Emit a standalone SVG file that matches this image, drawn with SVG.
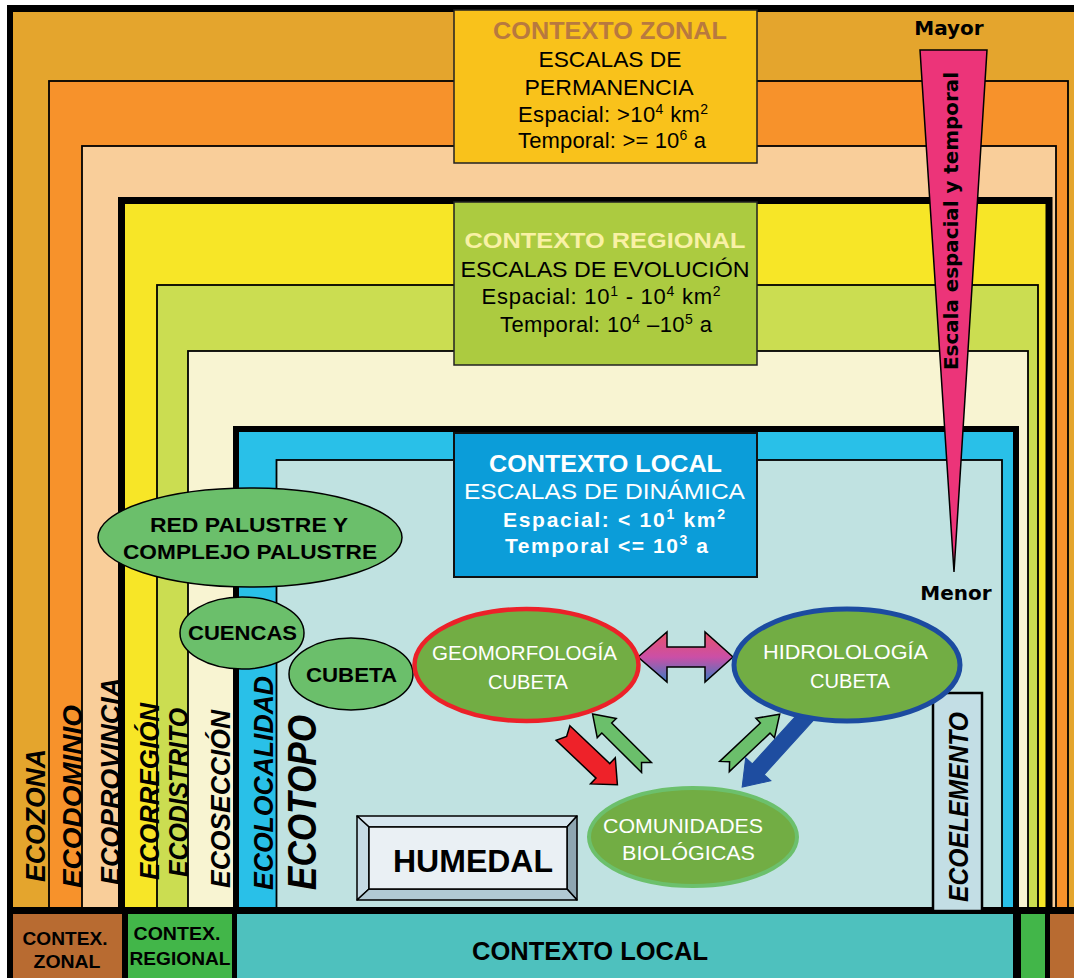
<svg xmlns="http://www.w3.org/2000/svg" width="1074" height="978" viewBox="0 0 1074 978">
  <style>
    .band { stroke: #000; stroke-width: 1.8; }
    .vlab { font-family: "Liberation Sans", Arial, sans-serif; font-weight: bold; font-style: italic; font-size: 28px; fill: #000; }
    .hand { font-family: "Liberation Sans", Arial, sans-serif; font-size: 22px; text-anchor: middle; }
    .title { font-family: "Liberation Sans", Arial, sans-serif; font-weight: bold; font-size: 23px; text-anchor: middle; }
    .olab { font-family: "Liberation Sans", Arial, sans-serif; font-weight: bold; font-size: 21px; text-anchor: middle; fill: #000; }
    .wlab { font-family: "Liberation Sans", Arial, sans-serif; font-size: 20px; text-anchor: middle; fill: #fff; }
    .foot { font-family: "Liberation Sans", Arial, sans-serif; font-weight: bold; font-size: 18px; text-anchor: middle; fill: #000; }
    .scale { font-family: "DejaVu Sans", Verdana, sans-serif; font-weight: bold; font-size: 20px; fill: #000; }
    .green-node { fill: #6BBF6B; stroke: #000; stroke-width: 1.5; }
    .arrow-green { fill: #6BBF6B; stroke: #000; stroke-width: 1.5; stroke-linejoin: miter; }
  </style>
  <defs>
    <linearGradient id="twoWay" x1="0" y1="0" x2="0" y2="1">
      <stop offset="0" stop-color="#E8526A"/>
      <stop offset="0.5" stop-color="#CB4FA6"/>
      <stop offset="1" stop-color="#3A7DC3"/>
    </linearGradient>
  </defs>

  <rect x="0" y="0" width="1074" height="978" fill="#fff"/>
  <!-- outer frame -->
  <rect x="7" y="5" width="1080" height="980" fill="#000"/>

  <!-- nested scale bands -->
  <g id="bands">
    <rect id="ecozona" x="13" y="12" width="1080" height="900" fill="#E4A52D"/>
    <rect id="ecodominio" class="band" x="49" y="81" width="1019" height="831" fill="#F7922B"/>
    <rect id="ecoprovincia" class="band" x="82" y="146" width="974" height="766" fill="#F9CE9A"/>
    <rect id="ecorregion" x="121.5" y="200.5" width="927.5" height="711.5" fill="#F7E627" stroke="#000" stroke-width="7"/>
    <rect id="ecodistrito" class="band" x="157" y="285" width="881" height="627" fill="#CBDD51"/>
    <rect id="ecoseccion" class="band" x="188" y="351" width="840" height="561" fill="#F8F4D2"/>
    <rect id="ecolocalidad" x="236" y="429" width="780" height="483" fill="#29C0E8" stroke="#000" stroke-width="6"/>
    <rect id="ecotopo" class="band" x="276.5" y="460" width="725.5" height="452" fill="#C0E2E1"/>
  </g>

  <!-- bottom context bar -->
  <g id="context-bar">
    <rect x="7" y="907" width="1067" height="71" fill="#000"/>
    <rect x="13" y="914" width="109" height="64" fill="#B86B31"/>
    <rect x="128" y="914" width="104" height="64" fill="#42B649"/>
    <rect x="237" y="914" width="776" height="64" fill="#4EC1BE"/>
    <rect x="1021" y="914" width="24" height="64" fill="#42B649"/>
    <rect x="1050" y="914" width="24" height="64" fill="#B86B31"/>
    <text class="foot" x="65" y="945" textLength="85" lengthAdjust="spacingAndGlyphs">CONTEX.</text>
    <text class="foot" x="67" y="968" textLength="67" lengthAdjust="spacingAndGlyphs">ZONAL</text>
    <text class="foot" x="177" y="940" textLength="87" lengthAdjust="spacingAndGlyphs">CONTEX.</text>
    <text class="foot" x="180" y="965" textLength="101" lengthAdjust="spacingAndGlyphs">REGIONAL</text>
    <text class="foot" x="590" y="960" style="font-size:25px" textLength="236" lengthAdjust="spacingAndGlyphs">CONTEXTO LOCAL</text>
  </g>

  <!-- vertical band names -->
  <g id="band-labels">
    <text class="vlab" transform="translate(45,882) rotate(-90)" textLength="133" lengthAdjust="spacingAndGlyphs">ECOZONA</text>
    <text class="vlab" transform="translate(82,888) rotate(-90)" textLength="183" lengthAdjust="spacingAndGlyphs">ECODOMINIO</text>
    <text class="vlab" transform="translate(120,885) rotate(-90)" textLength="207" lengthAdjust="spacingAndGlyphs">ECOPROVINCIA</text>
    <text class="vlab" transform="translate(159,880) rotate(-90)" textLength="177" lengthAdjust="spacingAndGlyphs">ECORREGIÓN</text>
    <text class="vlab" transform="translate(188,877) rotate(-90)" textLength="169" lengthAdjust="spacingAndGlyphs">ECODISTRITO</text>
    <text class="vlab" transform="translate(230,888) rotate(-90)" textLength="178" lengthAdjust="spacingAndGlyphs">ECOSECCIÓN</text>
    <text class="vlab" transform="translate(273,890) rotate(-90)" textLength="214" lengthAdjust="spacingAndGlyphs">ECOLOCALIDAD</text>
    <text class="vlab" transform="translate(316,890) rotate(-90)" style="font-size:40px" textLength="175" lengthAdjust="spacingAndGlyphs">ECOTOPO</text>
  </g>

  <!-- context boxes -->
  <g id="contexto-zonal">
    <rect x="454" y="10" width="303" height="153" fill="#F9C21B" stroke="#222" stroke-width="1.5"/>
    <text class="title" x="610" y="39" fill="#B8793F" textLength="234" lengthAdjust="spacingAndGlyphs">CONTEXTO ZONAL</text>
    <text class="hand" x="610" y="67" textLength="143" lengthAdjust="spacingAndGlyphs">ESCALAS DE</text>
    <text class="hand" x="609" y="95" textLength="169" lengthAdjust="spacingAndGlyphs">PERMANENCIA</text>
    <text class="hand" x="613" y="122" textLength="190" lengthAdjust="spacing">Espacial: &gt;10<tspan font-size="14" dy="-8">4</tspan><tspan dy="8"> km</tspan><tspan font-size="14" dy="-8">2</tspan></text>
    <text class="hand" x="612" y="148" textLength="188" lengthAdjust="spacing">Temporal: &gt;= 10<tspan font-size="14" dy="-8">6</tspan><tspan dy="8"> a</tspan></text>
  </g>

  <g id="contexto-regional">
    <rect x="454" y="202" width="303" height="163" fill="#ACCB40" stroke="#222" stroke-width="1.5"/>
    <text class="title" x="605" y="248" style="font-size:22px" fill="#F9F1A5" textLength="281" lengthAdjust="spacingAndGlyphs">CONTEXTO REGIONAL</text>
    <text class="hand" x="605" y="277" textLength="289" lengthAdjust="spacingAndGlyphs">ESCALAS DE EVOLUCIÓN</text>
    <text class="hand" x="601" y="304" textLength="239" lengthAdjust="spacing">Espacial: 10<tspan font-size="14" dy="-8">1</tspan><tspan dy="8"> - 10</tspan><tspan font-size="14" dy="-8">4</tspan><tspan dy="8">  km</tspan><tspan font-size="14" dy="-8">2</tspan></text>
    <text class="hand" x="606" y="332" textLength="212" lengthAdjust="spacing">Temporal: 10<tspan font-size="14" dy="-8">4</tspan><tspan dy="8"> –10</tspan><tspan font-size="14" dy="-8">5</tspan><tspan dy="8"> a</tspan></text>
  </g>

  <g id="contexto-local">
    <rect x="454" y="433" width="303" height="144" fill="#0B9DD9" stroke="#111" stroke-width="2"/>
    <text class="title" x="605.5" y="472" fill="#fff" textLength="233" lengthAdjust="spacingAndGlyphs">CONTEXTO LOCAL</text>
    <text class="hand" x="604.5" y="499" fill="#fff" textLength="281" lengthAdjust="spacingAndGlyphs">ESCALAS DE DINÁMICA</text>
    <text class="hand" x="614" y="527" fill="#fff" style="font-size:21px;font-weight:bold" textLength="222" lengthAdjust="spacing">Espacial: &lt; 10<tspan font-size="14" dy="-8">1</tspan><tspan dy="8">  km</tspan><tspan font-size="14" dy="-8">2</tspan></text>
    <text class="hand" x="606.5" y="553" fill="#fff" style="font-size:21px;font-weight:bold" textLength="203" lengthAdjust="spacing">Temporal &lt;= 10<tspan font-size="14" dy="-8">3</tspan><tspan dy="8"> a</tspan></text>
  </g>

  <!-- spatial / temporal scale wedge -->
  <g id="escala">
    <text class="scale" x="949" y="35" text-anchor="middle">Mayor</text>
    <polygon points="920,50 987,50 954,572" fill="#EC3479" stroke="#000" stroke-width="1.5"/>
    <text class="scale" transform="translate(958,370) rotate(-90)" textLength="298" lengthAdjust="spacingAndGlyphs">Escala espacial y temporal</text>
    <text class="scale" x="956" y="600" text-anchor="middle">Menor</text>
  </g>

  <g id="ecoelemento">
    <rect x="933" y="693" width="49" height="218" fill="#C3DEE5" stroke="#000" stroke-width="2.5"/>
    <text class="vlab" transform="translate(968,902) rotate(-90)" textLength="190" lengthAdjust="spacingAndGlyphs">ECOELEMENTO</text>
  </g>

  <!-- hierarchy ovals -->
  <g id="red-palustre">
    <ellipse class="green-node" cx="250" cy="537.5" rx="152" ry="49.5"/>
    <text class="olab" x="249" y="532" textLength="198" lengthAdjust="spacingAndGlyphs">RED PALUSTRE Y</text>
    <text class="olab" x="250" y="559" textLength="254" lengthAdjust="spacingAndGlyphs">COMPLEJO PALUSTRE</text>
  </g>
  <g id="cuencas">
    <ellipse class="green-node" cx="242" cy="633" rx="62" ry="36"/>
    <text class="olab" x="242.5" y="640" textLength="109" lengthAdjust="spacingAndGlyphs">CUENCAS</text>
  </g>
  <g id="cubeta">
    <ellipse class="green-node" cx="351" cy="674" rx="62" ry="36"/>
    <text class="olab" x="351.5" y="682" textLength="91" lengthAdjust="spacingAndGlyphs">CUBETA</text>
  </g>

  <!-- connectors -->
  <g id="connectors">
    <path d="M638,657 L667,632 V647 H705 V632 L733,657 L705,682 V667 H667 V682 Z" fill="url(#twoWay)" stroke="#000" stroke-width="1.5"/>
    <path transform="translate(563,733) rotate(43.5)" d="M0,-10 H55 V-18 L75,0 L55,18 V10 H0 L5,0 Z" fill="#EE2229" stroke="#000" stroke-width="1.5"/>
    <path class="arrow-green" transform="translate(646.5,767.5) rotate(224.8)" d="M0,-7 H56 V-13.5 L76,0 L56,13.5 V7 H0 L7,0 Z"/>
    <path class="arrow-green" transform="translate(724.5,766.5) rotate(-43.4)" d="M0,-7 H56 V-13.5 L76,0 L56,13.5 V7 H0 L7,0 Z"/>
    <path transform="translate(812,710) rotate(132.2)" d="M0,-8 H80 V-17 L104,0 L80,17 V8 H0 Z" fill="#1E4DA0" stroke="#1E4DA0" stroke-width="1"/>
  </g>

  <g id="geomorfologia">
    <ellipse cx="526.5" cy="665" rx="112" ry="56" fill="#72AD44" stroke="#EC2129" stroke-width="4.5"/>
    <text class="wlab" x="524.5" y="660" textLength="185" lengthAdjust="spacingAndGlyphs">GEOMORFOLOGÍA</text>
    <text class="wlab" x="528" y="689" textLength="80" lengthAdjust="spacingAndGlyphs">CUBETA</text>
  </g>
  <g id="hidrologia">
    <ellipse cx="847" cy="665" rx="113" ry="56" fill="#72AD44" stroke="#1C4BA0" stroke-width="5"/>
    <text class="wlab" x="845.5" y="659" textLength="165" lengthAdjust="spacingAndGlyphs">HIDROLOLOGÍA</text>
    <text class="wlab" x="850" y="688" textLength="80" lengthAdjust="spacingAndGlyphs">CUBETA</text>
  </g>
  <g id="comunidades">
    <ellipse cx="693" cy="837" rx="104" ry="49" fill="#72AD44" stroke="#6CC06C" stroke-width="4"/>
    <text class="wlab" x="683" y="833" textLength="160" lengthAdjust="spacingAndGlyphs">COMUNIDADES</text>
    <text class="wlab" x="688.5" y="860" textLength="133" lengthAdjust="spacingAndGlyphs">BIOLÓGICAS</text>
  </g>

  <!-- bevelled wetland plate -->
  <g id="humedal" stroke="#000" stroke-width="1.5" stroke-linejoin="round">
    <polygon points="357,816 577,816 567,827 369,827" fill="#D6E6EE"/>
    <polygon points="357,816 369,827 369,889 357,900" fill="#C6DBE5"/>
    <polygon points="577,816 577,900 567,889 567,827" fill="#8EA6B1"/>
    <polygon points="357,900 369,889 567,889 577,900" fill="#B1C9D4"/>
    <rect x="369" y="827" width="198" height="62" fill="#EAF0F4"/>
    <text x="473" y="872" stroke="none" font-family="Liberation Sans, Arial, sans-serif" font-weight="bold" font-size="31" text-anchor="middle" textLength="160" lengthAdjust="spacingAndGlyphs">HUMEDAL</text>
  </g>
</svg>
